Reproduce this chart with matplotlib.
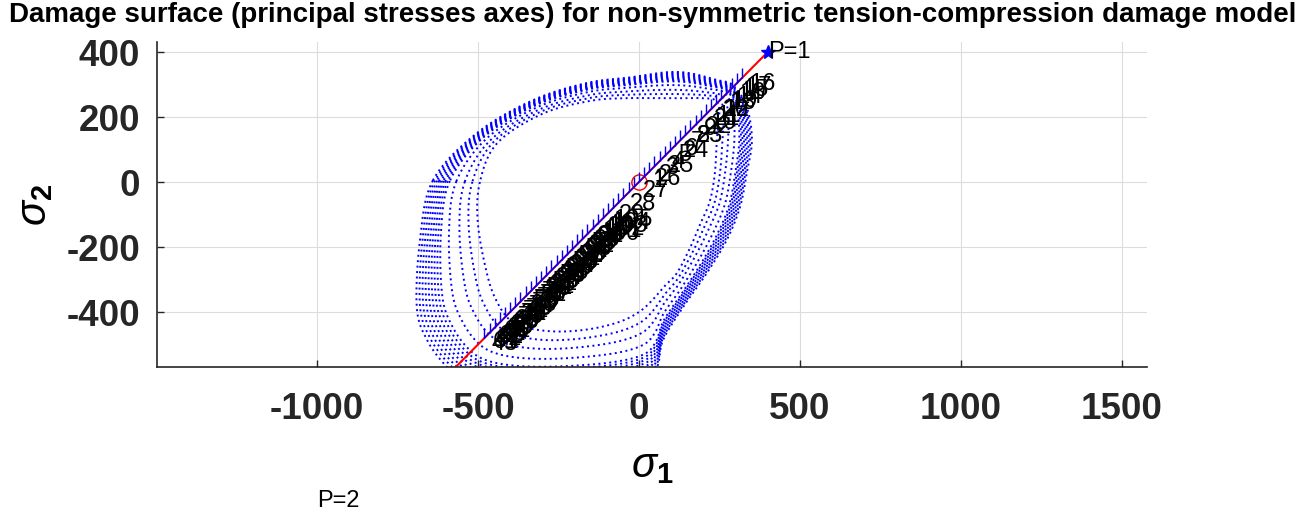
import numpy as np
import matplotlib
matplotlib.use("Agg")
import matplotlib.pyplot as plt

plt.rcParams['font.family'] = ['Liberation Sans', 'DejaVu Sans']
plt.rcParams['mathtext.fontset'] = 'custom'
plt.rcParams['mathtext.rm'] = 'Liberation Sans'
plt.rcParams['mathtext.it'] = 'Liberation Sans:italic'
plt.rcParams['mathtext.bf'] = 'Liberation Sans:bold'

# ---- data ----
# outermost damage surface (sigma1, sigma2), counter-clockwise from left corner
outer_x = [-640, -680, -690, -658, -600, -545, -450, -300, -100, 20, 58, 75, 137, 211, 273,
           314, 335, 351, 335, 292, 242, 158, 87, -19, -161, -329, -503]
outer_y = [5, -178, -385, -486, -565, -605, -625, -632, -625, -605, -565, -486, -385, -280, -178,
           -77, 28, 129, 231, 298, 314, 335, 338, 323, 305, 252, 151]
# innermost damage surface, same point order
inner_x = [-494, -500, -470, -440, -400, -340, -250, -150, -60, 0, 40, 80, 118, 160, 190,
           220, 236, 242, 250, 240, 200, 140, 60, -40, -150, -300, -440]
inner_y = [0, -130, -290, -370, -425, -450, -460, -452, -430, -400, -365, -320, -280, -200, -130,
           -60, 28, 129, 210, 250, 258, 258, 258, 258, 250, 210, 120]
# position of each nested surface between innermost (0) and outermost (1)
surf_levels = [1.0, 0.955, 0.91, 0.865, 0.82, 0.775, 0.73, 0.685, 0.64,
               0.5, 0.32, 0.16, 0.0]

# load path markers along sigma1 = sigma2
mark_s = [-480, -464, -448, -432, -416, -400, -384, -368, -352, -336, -320, -304, -288,
          -272, -256, -240, -224, -208, -192, -176, -160, -144, -128, -112, -96, -80, -64,
          -48, -32, -16, 0, 16, 32, 48, 64, 80, 96, 112, 128, 144, 160, 176, 192, 208, 224,
          240, 256, 272, 288, 304, 320]
# labelled load steps
path_s = [20, 40, 60, 80, 100, 120, 140, 160, 180, 200, 220, 240, 260, 280, 300, 320,
          310, 290, 265, 240, 210, 185, 160, 114, 68, 28, -9, -49, -85, -120, -150, -180,
          -209, -240, -270, -300, -330, -360, -390, -415, -440, -460, -480,
          -470, -450, -430, -410, -390, -370, -350, -330, -310, -290, -270, -250, -230,
          -210, -190, -170, -150,
          -475, -466, -458, -449, -441, -432, -424, -415, -407, -398, -390, -381, -373,
          -364, -356, -347, -339, -330, -322, -313, -305, -296, -288, -279, -271, -262,
          -254, -245, -237, -228, -220, -211, -203, -194, -186, -177, -169, -160, -152,
          -143, -135, -126, -118, -109, -101]
path_labels = [str(i + 1) for i in range(len(path_s))]

line_s = [-600, 400]          # red reference line
end_pt = (400, 400)           # P=1 point
p2_pos = (-1000, -980)        # P=2 text

xticks = [-1000, -500, 0, 500, 1000, 1500]
yticks = [-400, -200, 0, 200, 400]


def closed_spline(xs, ys, n=40):
    """Catmull-Rom closed spline through the read points (for smooth drawing)."""
    P = np.column_stack([xs, ys]).astype(float)
    m = len(P)
    out = []
    for i in range(m):
        p0, p1, p2, p3 = P[(i - 1) % m], P[i], P[(i + 1) % m], P[(i + 2) % m]
        t = np.linspace(0, 1, n, endpoint=False)[:, None]
        pts = 0.5 * ((2 * p1) + (-p0 + p2) * t + (2 * p0 - 5 * p1 + 4 * p2 - p3) * t ** 2
                     + (-p0 + 3 * p1 - 3 * p2 + p3) * t ** 3)
        out.append(pts)
    out = np.vstack(out + [P[:1]])
    return out[:, 0], out[:, 1]


fig = plt.figure(figsize=(13.06, 5.21), dpi=100)
ax = fig.add_axes([0.1202, 0.2956, 0.7580, 0.6238])

ox, oy = closed_spline(outer_x, outer_y)
ix, iy = closed_spline(inner_x, inner_y)
for f in surf_levels:
    ax.plot(ix + f * (ox - ix), iy + f * (oy - iy), color=(0, 0, 1), lw=1.4,
            linestyle=(0, (1, 1.8)))

ax.plot(line_s, line_s, color='red', lw=1.5)
ax.plot([0], [0], marker='o', mfc='none', mec='red', ms=11, lw=0)
ax.plot(mark_s, mark_s, color=(0, 0, 1), lw=1.0, marker=2, ms=7, mew=1.0)
for s, lab in zip(path_s, path_labels):
    ax.annotate(lab, (s, s), xytext=(5, -4), textcoords='offset points',
                ha='left', va='center', fontsize=17, color='black')
ax.plot([end_pt[0]], [end_pt[1]], marker='*', color=(0, 0, 1), ms=10, lw=0)
ax.text(end_pt[0], end_pt[1], 'P=1', ha='left', va='center', fontsize=17)
ax.text(p2_pos[0], p2_pos[1], 'P=2', ha='left', va='center', fontsize=17, clip_on=False)

ax.set_xlim(-1497, 1578)
ax.set_ylim(-569, 431)
ax.set_xticks(xticks)
ax.set_yticks(yticks)
ax.set_xticklabels([str(v) for v in xticks])
ax.set_yticklabels([str(v) for v in yticks])
ax.grid(True, color='#dcdcdc', lw=0.8)
ax.set_axisbelow(True)
for side in ['top', 'right']:
    ax.spines[side].set_visible(False)
for side in ['left', 'bottom']:
    ax.spines[side].set_color('#262626')
    ax.spines[side].set_linewidth(1.2)
ax.tick_params(axis='both', direction='in', length=5, width=1, colors='#262626',
               labelsize=26.5)
ax.tick_params(axis='x', pad=18)
ax.tick_params(axis='y', pad=12)
for lab in ax.get_xticklabels() + ax.get_yticklabels():
    lab.set_fontweight('bold')

ax.set_xlabel(r'$\sigma_{\mathbf{1}}$', fontsize=30, labelpad=14)
ax.set_ylabel(r'$\sigma_{\mathbf{2}}$', fontsize=30, labelpad=8)
fig.suptitle('Damage surface (principal stresses axes) for non-symmetric tension-compression damage model',
             fontsize=20, fontweight='bold', y=0.997, va='top')

fig.savefig('out.png', dpi=100)
